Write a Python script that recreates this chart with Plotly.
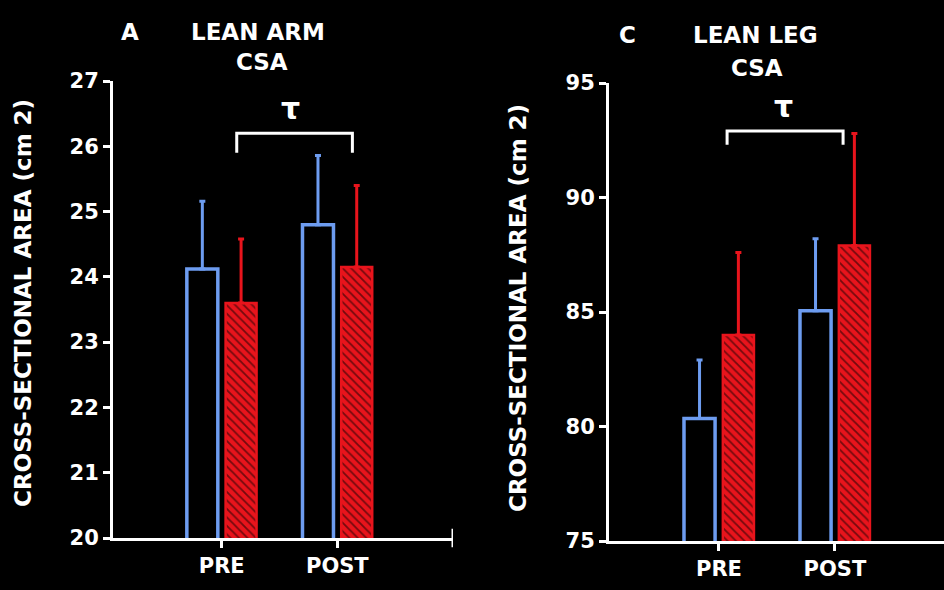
import plotly.graph_objects as go

W, H = 944, 590

# ---- data ----
phases = ["PRE", "POST"]
arm_blue = [24.12, 24.80]
arm_blue_err = [1.04, 1.06]
arm_red = [23.60, 24.15]
arm_red_err = [0.98, 1.25]
leg_blue = [80.35, 85.05]
leg_blue_err = [2.55, 3.15]
leg_red = [84.00, 87.90]
leg_red_err = [3.60, 4.90]
arm_ticks = [20, 21, 22, 23, 24, 25, 26, 27]
leg_ticks = [75, 80, 85, 90, 95]

BLUE = "#6d9cf0"
RED = "#e8141c"
WHITE = "white"
FONT = "DejaVu Sans"


def px(x):
    return x / W


def py(y):
    return 1 - y / H


fig = go.Figure()


def add_panel(xa, ya, blue, blue_err, red, red_err):
    fig.add_trace(go.Bar(
        x=phases, y=blue, xaxis=xa, yaxis=ya, offsetgroup="b",
        marker=dict(color="rgba(0,0,0,0)", line=dict(color=BLUE, width=3.5)),
        error_y=dict(type="data", symmetric=False, array=blue_err,
                     arrayminus=[0] * len(blue_err), color=BLUE,
                     thickness=3, width=3),
        showlegend=False, hoverinfo="skip"))
    fig.add_trace(go.Bar(
        x=phases, y=red, xaxis=xa, yaxis=ya, offsetgroup="r",
        marker=dict(color=RED, line=dict(color=RED, width=2.5),
                    pattern=dict(shape="\\", fgcolor="black", bgcolor=RED,
                                 size=6, solidity=0.3)),
        error_y=dict(type="data", symmetric=False, array=red_err,
                     arrayminus=[0] * len(red_err), color=RED,
                     thickness=3, width=3),
        showlegend=False, hoverinfo="skip"))


add_panel("x", "y", arm_blue, arm_blue_err, arm_red, arm_red_err)
add_panel("x2", "y2", leg_blue, leg_blue_err, leg_red, leg_red_err)

axis_common = dict(showline=True, linecolor=WHITE, linewidth=3,
                   ticks="outside", tickcolor=WHITE, tickwidth=3, ticklen=7,
                   showgrid=False, zeroline=False, automargin=False,
                   tickfont=dict(family=FONT, size=21, color=WHITE,
                                 weight="bold"))

fig.update_layout(
    width=W, height=H, autosize=False,
    margin=dict(l=0, r=0, t=0, b=0, pad=0),
    paper_bgcolor="black", plot_bgcolor="black",
    barmode="group", bargap=0.33, bargroupgap=0.2,
    xaxis=dict(domain=[px(113), px(453)], type="category",
               range=[-0.94, 2.0], anchor="y", **axis_common),
    yaxis=dict(domain=[py(538), py(81)], range=[20, 27],
               tickvals=arm_ticks, anchor="x", **axis_common),
    xaxis2=dict(domain=[px(609), 1.0], type="category",
                range=[-0.948, 1.94], anchor="y2", **axis_common),
    yaxis2=dict(domain=[py(541), py(83)], range=[75, 95],
                tickvals=leg_ticks, anchor="x2", **axis_common),
)

# brackets
line_w = dict(color=WHITE, width=3)
for xr, yr, x0, x1, ytop, ybot in [
    ("x", "y", 0.13, 1.13, 26.2, 25.9),
    ("x2", "y2", 0.07, 1.07, 92.9, 92.3),
]:
    fig.add_shape(type="path", xref=xr, yref=yr,
                  path=f"M {x0},{ybot} L {x0},{ytop} L {x1},{ytop} L {x1},{ybot}",
                  line=line_w)

# end tick at right end of left x-axis
fig.add_shape(type="line", xref="x", yref="y domain", x0=2.0, x1=2.0,
              y0=-0.02, y1=0.02, line=line_w)

ann_font = dict(family=FONT, size=23, color=WHITE, weight="bold")
annotations = [
    dict(text="A", x=px(130), y=py(32)),
    dict(text="LEAN ARM", x=px(258), y=py(32)),
    dict(text="CSA", x=px(262), y=py(62)),
    dict(text="C", x=px(627), y=py(35)),
    dict(text="LEAN LEG", x=px(755), y=py(35)),
    dict(text="CSA", x=px(757), y=py(68)),
]
for a in annotations:
    fig.add_annotation(xref="paper", yref="paper", showarrow=False,
                       xanchor="center", yanchor="middle", font=ann_font, **a)

for x, y in [(290, 108), (783, 106)]:
    fig.add_annotation(text="τ", xref="paper", yref="paper", x=px(x),
                       y=py(y), showarrow=False, xanchor="center",
                       yanchor="middle",
                       font=dict(family=FONT, size=30, color=WHITE,
                                 weight="bold"))

for x, y in [(23, 303), (518, 308)]:
    fig.add_annotation(text="CROSS-SECTIONAL AREA (cm 2)", xref="paper",
                       yref="paper", x=px(x), y=py(y), showarrow=False,
                       textangle=-90, xanchor="center", yanchor="middle",
                       font=dict(family=FONT, size=23, color=WHITE,
                                 weight="bold"))

fig.write_html("out.html",
               config={"displayModeBar": False},
               post_script="document.body.style.margin='0';"
                           "document.body.style.background='black';")
